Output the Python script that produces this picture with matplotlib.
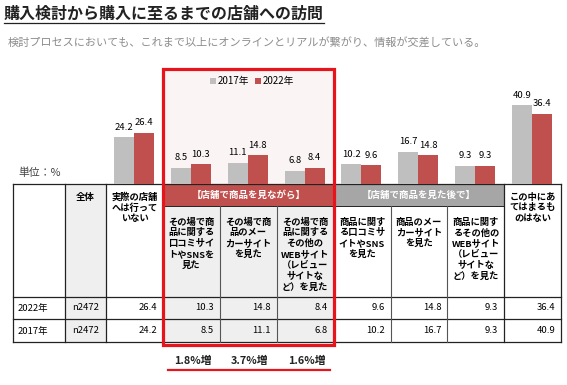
import matplotlib
matplotlib.use("Agg")
import matplotlib.pyplot as plt
from matplotlib.patches import Rectangle

plt.rcParams['font.family'] = ['Noto Sans CJK JP', 'DejaVu Sans']

# --- data ---
title = "購入検討から購入に至るまでの店舗への訪問"
subtitle = "検討プロセスにおいても、これまで以上にオンラインとリアルが繋がり、情報が交差している。"
unit_label = "単位：%"
categories = [
    "実際の店舗\nへは行って\nいない",
    "その場で商\n品に関する\n口コミサイ\nトやSNSを\n見た",
    "その場で商\n品のメー\nカーサイト\nを見た",
    "その場で商\n品に関する\nその他の\nWEBサイト\n（レビュー\nサイトな\nど）を見た",
    "商品に関す\nる口コミサ\nイトやSNS\nを見た",
    "商品のメー\nカーサイト\nを見た",
    "商品に関す\nるその他の\nWEBサイト\n（レビュー\nサイトな\nど）を見た",
    "この中にあ\nてはまるも\nのはない",
]
vals_2017 = [24.2, 8.5, 11.1, 6.8, 10.2, 16.7, 9.3, 40.9]
vals_2022 = [26.4, 10.3, 14.8, 8.4, 9.6, 14.8, 9.3, 36.4]
years = ["2017年", "2022年"]
total_label = "全体"
sample_n = "n2472"
groups = ["【店舗で商品を見ながら】", "【店舗で商品を見た後で】"]
group_cols = [(1, 3), (4, 6)]       # first/last category index of each group
highlight_cols = [1, 2, 3]          # columns inside the red box

# --- style ---
GRAY = "#bfbfbf"
RED = "#c0504d"
BOX_RED = "#e8141c"
BAND_GRAY = "#a6a6a6"
CELL_GRAY = "#efefef"
LINE = "#222222"

W, H = 567, 385
fig = plt.figure(figsize=(W / 100, H / 100), dpi=100)
ax = fig.add_axes([0, 0, 1, 1])
ax.set_xlim(0, W)
ax.set_ylim(H, 0)
ax.axis("off")

# table geometry (pixels)
col_w = 56.9
x_left, x_total, x_cat0 = 13, 65, 106
cat_edges = [x_cat0 + col_w * i for i in range(len(categories) + 1)]
y_top, y_band, y_head, y_r1, y_r2 = 184, 206, 297, 319, 342

# --- title / subtitle ---
ax.text(4, 14, title, fontsize=11.5, fontweight="bold", color="#222222",
        va="center", ha="left")
ax.plot([4, 324], [22.5, 22.5], color="#222222", lw=0.9)
ax.text(8, 43, subtitle, fontsize=8, color="#8c8c8c", va="center", ha="left")
ax.text(18, 173, unit_label, fontsize=7.8, color="#444444", va="center", ha="left")

# --- red highlight box background ---
hx0 = cat_edges[highlight_cols[0]]
hx1 = cat_edges[highlight_cols[-1] + 1]
ax.add_patch(Rectangle((hx0, 69), hx1 - hx0, y_top - 69, facecolor="#faf4f4",
                       edgecolor="none", zorder=0))

# --- table fills ---
ax.add_patch(Rectangle((x_total, y_top), x_cat0 - x_total, y_r2 - y_top,
                       facecolor=CELL_GRAY, edgecolor="none", zorder=1))
ax.add_patch(Rectangle((hx0, y_band), hx1 - hx0, y_r2 - y_band,
                       facecolor=CELL_GRAY, edgecolor="none", zorder=1))
band_colors = [RED, BAND_GRAY]
for (c0, c1), name, bc in zip(group_cols, groups, band_colors):
    bx0, bx1 = cat_edges[c0], cat_edges[c1 + 1]
    ax.add_patch(Rectangle((bx0, y_top), bx1 - bx0, y_band - y_top,
                           facecolor=bc, edgecolor="none", zorder=1))
    ax.text((bx0 + bx1) / 2, (y_top + y_band) / 2, name, color="white",
            fontsize=6.8, fontweight="bold", ha="center", va="center", zorder=3)

# --- table lines ---
for y in [y_top, y_head, y_r1, y_r2]:
    ax.plot([x_left, cat_edges[-1]], [y, y], color=LINE, lw=0.9, zorder=2)
ax.plot([cat_edges[1], cat_edges[7]], [y_band, y_band], color=LINE, lw=0.7, zorder=2)
full_vlines = [x_left, x_total, x_cat0, cat_edges[1], cat_edges[4], cat_edges[7], cat_edges[8]]
for x in full_vlines:
    ax.plot([x, x], [y_top, y_r2], color=LINE, lw=0.9, zorder=2)
for i in [2, 3, 5, 6]:
    ax.plot([cat_edges[i], cat_edges[i]], [y_band, y_r2], color="#555555", lw=0.8, zorder=2)

# --- header texts ---
ax.text((x_total + x_cat0) / 2, 197, total_label, fontsize=6.8, fontweight="bold",
        ha="center", va="center", zorder=3)
in_group = {i for c0, c1 in group_cols for i in range(c0, c1 + 1)}
for i, label in enumerate(categories):
    cx = (cat_edges[i] + cat_edges[i + 1]) / 2
    y0 = 222 if i in in_group else 197
    for k, line in enumerate(label.split("\n")):
        ax.text(cx, y0 + 10.9 * k, line, fontsize=6.7, fontweight="bold",
                ha="center", va="center", zorder=3)

# --- data rows (2022 first, then 2017) ---
row_data = [(years[1], vals_2022, (y_head + y_r1) / 2),
            (years[0], vals_2017, (y_r1 + y_r2) / 2)]
for year, vals, yc in row_data:
    ax.text(18, yc + 1, year, fontsize=6.8, ha="left", va="center", zorder=3)
    ax.text((x_total + x_cat0) / 2, yc, sample_n, fontsize=6.8, ha="center",
            va="center", zorder=3)
    for i, v in enumerate(vals):
        ax.text(cat_edges[i + 1] - 6, yc, f"{v:.1f}", fontsize=6.8, ha="right",
                va="center", zorder=3)

# --- increase labels under the red box ---
for i in highlight_cols:
    diff = vals_2022[i] - vals_2017[i]
    ax.text(cat_edges[i + 1] - 8, 361, f"{diff:.1f}%増", fontsize=7.8,
            fontweight="bold", color="#222222", ha="right", va="center")
ax.plot([hx0 + 5, hx1 - 4], [370, 370], color=BOX_RED, lw=1.6)

# --- red highlight box outline ---
ax.add_patch(Rectangle((hx0, 69), hx1 - hx0, 345 - 69, facecolor="none",
                       edgecolor=BOX_RED, lw=2.3, zorder=5))

# --- legend ---
ax.add_patch(Rectangle((210, 78), 6, 6, facecolor=GRAY, edgecolor="none"))
ax.text(218, 81, years[0], fontsize=7, ha="left", va="center")
ax.add_patch(Rectangle((255, 78), 6, 6, facecolor=RED, edgecolor="none"))
ax.text(263, 81, years[1], fontsize=7, ha="left", va="center")

# --- bars ---
ymax = 50
px_per_unit = 1.93
bax = fig.add_axes([x_cat0 / W, (H - y_top) / H, (cat_edges[-1] - x_cat0) / W,
                    ymax * px_per_unit / H])
bax.patch.set_alpha(0)
bax.set_xlim(-0.5, len(categories) - 0.5)
bax.set_ylim(0, ymax)
bax.axis("off")
bw = 20 / col_w
xs = range(len(categories))
b1 = bax.bar([x - bw / 2 - 0.01 for x in xs], vals_2017, width=bw, color=GRAY)
b2 = bax.bar([x + bw / 2 - 0.01 for x in xs], vals_2022, width=bw, color=RED)
for bars, vals in [(b1, vals_2017), (b2, vals_2022)]:
    for rect, v in zip(bars, vals):
        bax.annotate(f"{v:.1f}", (rect.get_x() + rect.get_width() / 2, v),
                     xytext=(0, 4), textcoords="offset points", ha="center",
                     va="bottom", fontsize=6.8, annotation_clip=False)

fig.savefig("out.png", dpi=100)
